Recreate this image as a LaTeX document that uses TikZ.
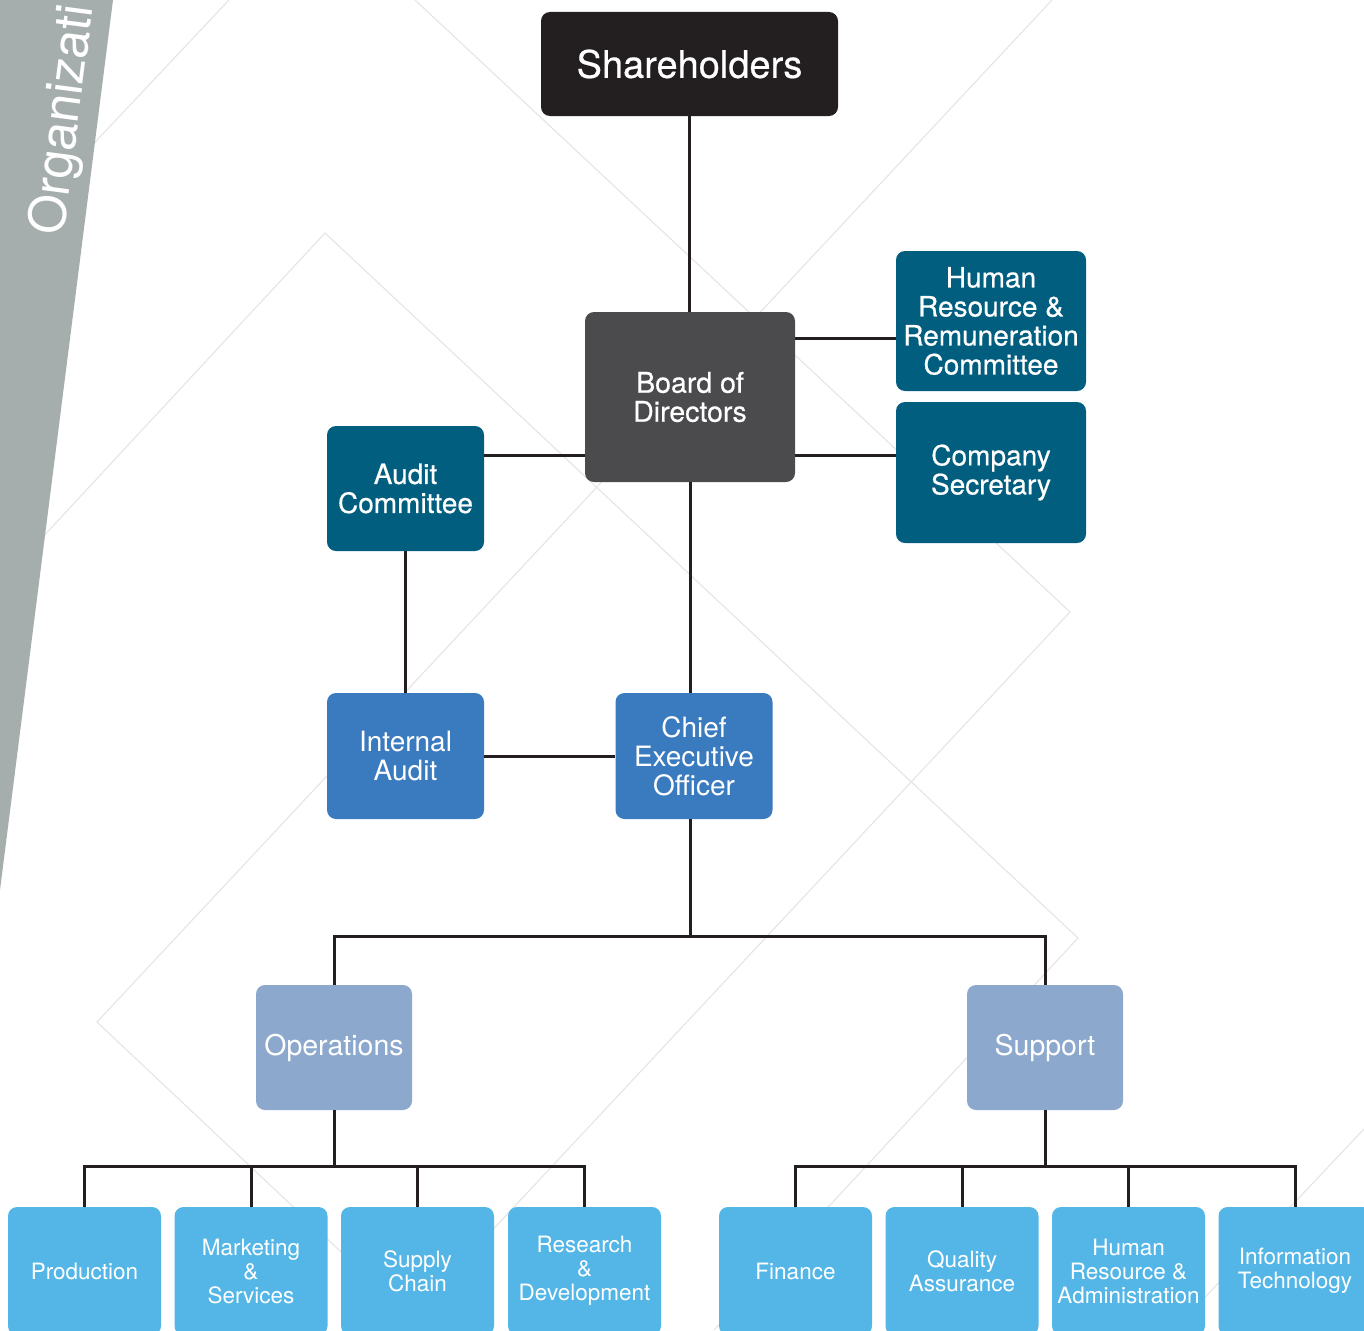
\documentclass[tikz,border=0pt]{standalone}
\usepackage{fontspec}
\setmainfont{TeX Gyre Heros}
\newfontfamily\medfont[FakeBold=0.5]{TeX Gyre Heros}
\definecolor{linec}{HTML}{231F20}
\definecolor{bgline}{HTML}{E6E6E6}
\definecolor{bandc}{HTML}{A6AEAD}
\definecolor{shc}{HTML}{231F20}
\definecolor{bodc}{HTML}{4B4B4D}
\definecolor{comc}{HTML}{025E7F}
\definecolor{execc}{HTML}{3A7ABF}
\definecolor{divc}{HTML}{8CA8CC}
\definecolor{unitc}{HTML}{54B6E6}
\newcommand\setfs[1]{\fontsize{#1}{#1}\selectfont}
\begin{document}
\begin{tikzpicture}[x=1pt,y=-1pt,
  conn/.style={draw=linec, line width=3pt},
  bg/.style={draw=bgline, line width=1.2pt},
  orgbox/.style={rounded corners=9pt, inner sep=2pt, align=center, text=white},
  committee/.style={orgbox, fill=comc, minimum width=190pt, minimum height=140pt,
    font={\medfont\fontsize{28}{29}\selectfont}},
  execbox/.style={orgbox, fill=execc, minimum width=157pt, minimum height=126pt,
    font={\fontsize{28}{29}\selectfont}},
  division/.style={orgbox, fill=divc, minimum width=156pt, minimum height=125pt,
    font={\fontsize{28.5}{29}\selectfont}},
  unit/.style={orgbox, fill=unitc, minimum width=153pt, minimum height=128pt,
    font={\fontsize{22.5}{24}\selectfont}}]

\useasboundingbox (0,0) rectangle (1364,1330);
\clip (0,0) rectangle (1364,1330);

% faint diamond pattern in the background
\draw[bg] (229,0) -- (50,190);
\draw[bg] (1052,0) -- (97,1022) -- (424,1330);
\draw[bg] (0,583) -- (325,233) -- (1078,938) -- (714,1330);
\draw[bg] (415,0) -- (1070,612) -- (399,1330);
\draw[bg] (1364,1129) -- (1174,1330);

% slanted side band with its title
\fill[bandc] (0,0) -- (113,0) -- (0,890) -- cycle;
\node[text=white, font=\setfs{51}, rotate=82.5, anchor=base west, inner sep=0pt]
  (orgtitle) at (63,237) {Organizati};

% governance level
\node[orgbox, fill=shc, minimum width=297pt, minimum height=104pt,
  font={\medfont\setfs{38}}] (sh) at (689.5,64) {Shareholders};
\node[orgbox, fill=bodc, minimum width=210pt, minimum height=170pt,
  font={\medfont\fontsize{28.5}{29}\selectfont}] (bod) at (690,397) {Board of\\Directors};
\node[committee] (hr) at (991,321) {Human\\Resource \&\\Remuneration\\Committee};
\node[committee, minimum height=141pt] (cs) at (991,472.5) {Company\\Secretary};
\node[committee, minimum width=157pt, minimum height=125pt] (aud) at (405.5,488.5)
  {Audit\\Committee};

% executive level
\node[execbox] (ia) at (405.5,756) {Internal\\Audit};
\node[execbox] (ceo) at (694,756) {Chief\\Executive\\Officer};

% divisions
\node[division] (ops) at (334,1047.5) {Operations};
\node[division] (sup) at (1045,1047.5) {Support};

% departments
\node[unit] (u1) at (84.5,1271) {Production};
\node[unit] (u2) at (251,1271) {Marketing\\\&\\Services};
\node[unit] (u3) at (417.5,1271) {Supply\\Chain};
\node[unit] (u4) at (584.5,1271) {Research\\\&\\Development};
\node[unit] (u5) at (795.5,1271) {Finance};
\node[unit] (u6) at (962,1271) {Quality\\Assurance};
\node[unit] (u7) at (1128.5,1271) {Human\\Resource \&\\Administration};
\node[unit] (u8) at (1295,1271) {Information\\Technology};

% junction points of the connectors
\coordinate (hrj) at (896,338);
\coordinate (bj) at (690,455);
\coordinate (ceoj) at (690,936);
\coordinate (opsj) at (334,1166);
\coordinate (supj) at (1045,1166);

% connectors
\draw[conn] (sh.south) -- (sh.south |- bod.north);
\draw[conn] (bod.east |- hrj) -- (hrj);
\draw[conn] (bod.east |- bj) -- (cs.west |- bj);
\draw[conn] (aud.east |- bj) -- (bod.west |- bj);
\draw[conn] (aud.south) -- (ia.north);
\draw[conn] (ia.east) -- (ceo.west);
\draw[conn] (bod.south) -- (bod.south |- ceo.north);
\draw[conn] (bod.south |- ceo.south) -- (ceoj);
\draw[conn] (ops.north) -- (ops.north |- ceoj) -- (sup.north |- ceoj) -- (sup.north);

\draw[conn] (ops.south) -- (opsj);
\draw[conn] (u1.north) -- (u1.north |- opsj) -- (u4.north |- opsj) -- (u4.north);
\draw[conn] (u2.north) -- (u2.north |- opsj);
\draw[conn] (u3.north) -- (u3.north |- opsj);

\draw[conn] (sup.south) -- (supj);
\draw[conn] (u5.north) -- (u5.north |- supj) -- (u8.north |- supj) -- (u8.north);
\draw[conn] (u6.north) -- (u6.north |- supj);
\draw[conn] (u7.north) -- (u7.north |- supj);
\end{tikzpicture}
\end{document}
